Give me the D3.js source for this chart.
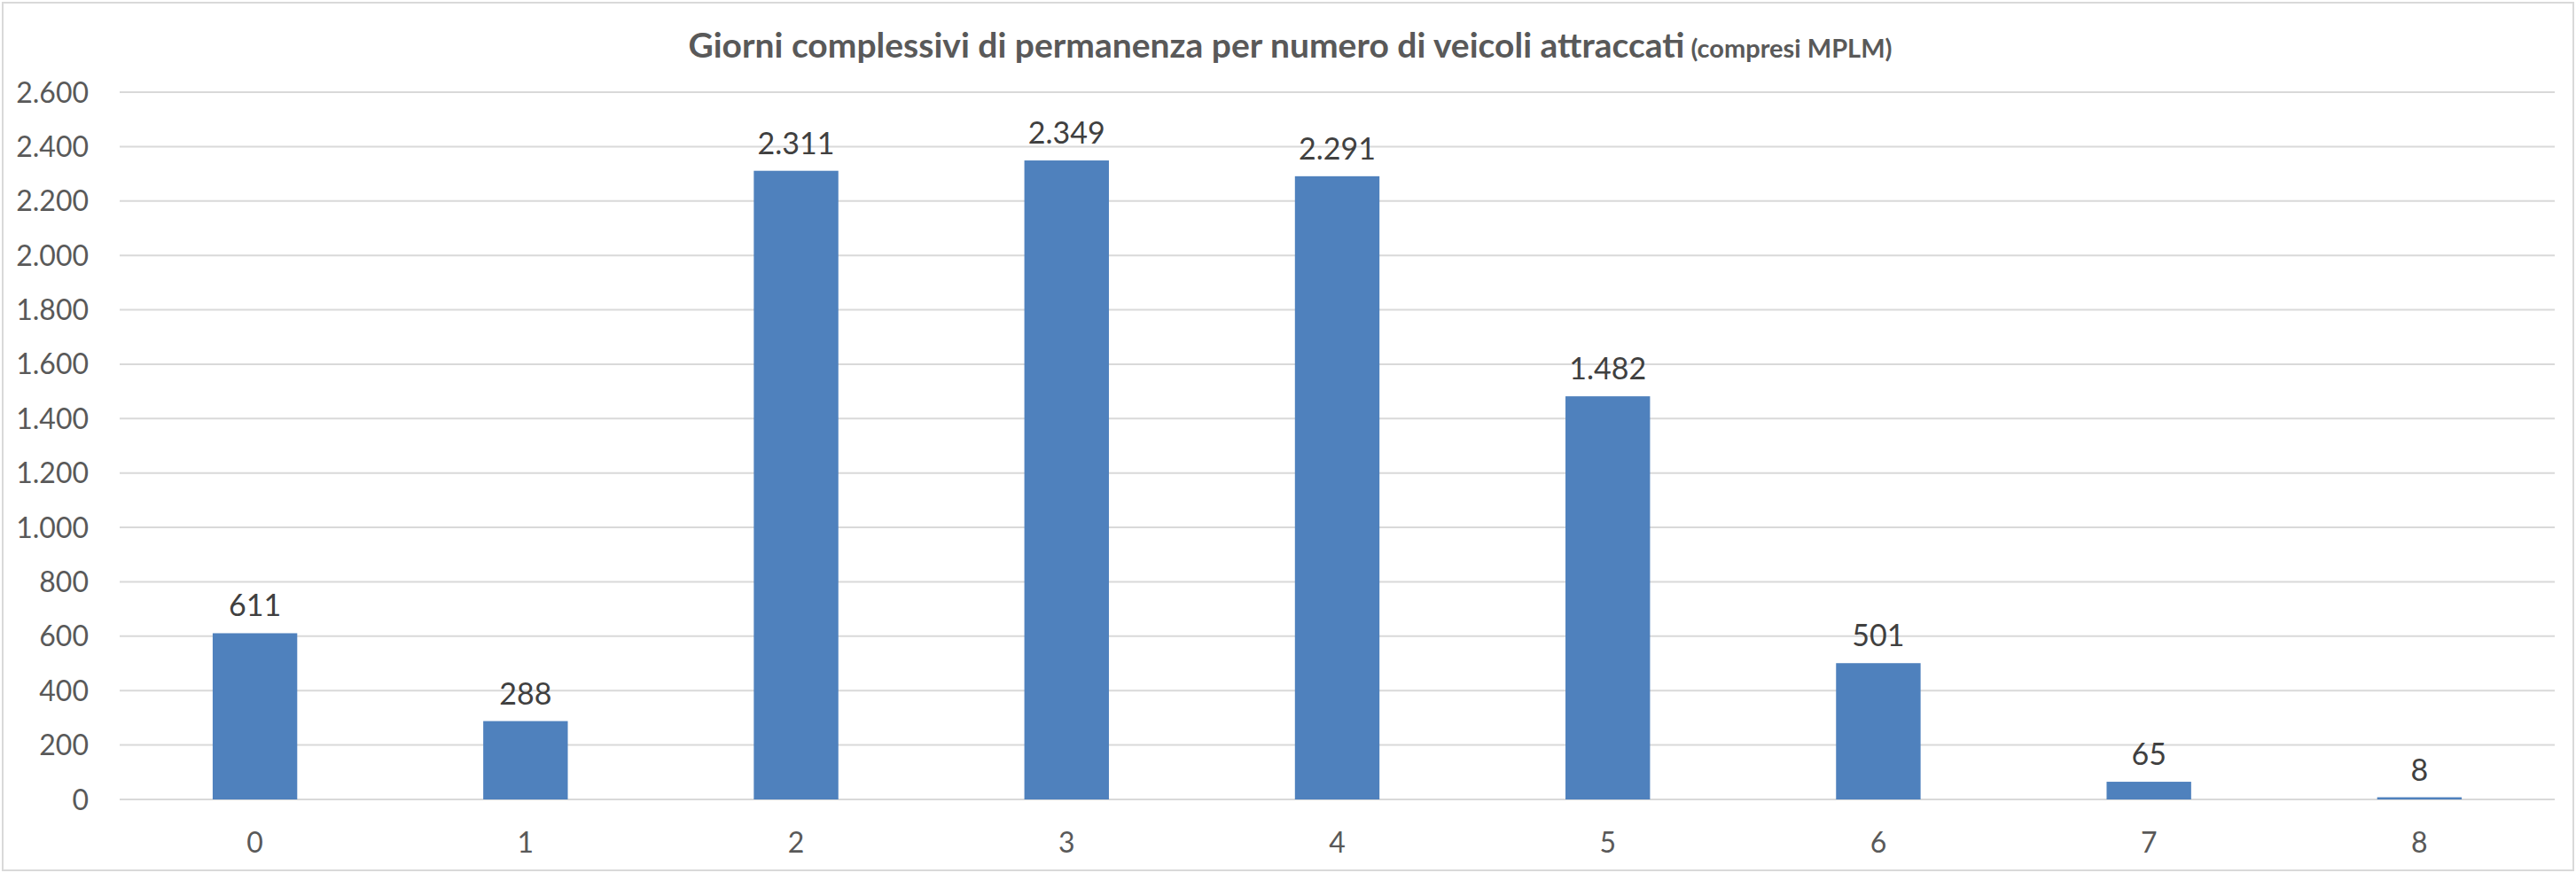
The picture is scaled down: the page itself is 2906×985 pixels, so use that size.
<!DOCTYPE html>
<html><head><meta charset="utf-8">
<script src="https://cdn.jsdelivr.net/npm/d3@7"></script>
<style>body{margin:0;background:#fff;}svg{display:block;}</style>
</head><body>
<script>
const categories = ["0","1","2","3","4","5","6","7","8"];
const values = [611, 288, 2311, 2349, 2291, 1482, 501, 65, 8];
const yTicks = [0,200,400,600,800,1000,1200,1400,1600,1800,2000,2200,2400,2600];
const titleMain = "Giorni complessivi di permanenza per numero di veicoli attraccati";
const titleSub = "(compresi MPLM)";

const W = 2906, H = 985;
const m = {left:135, right:2882, top:104, bottom:902};
const fmt = v => d3.format(",")(v).replace(/,/g, ".");
const font = "Lato, 'Open Sans', sans-serif";

const svg = d3.select("body").append("svg").attr("width", W).attr("height", H);
svg.append("rect").attr("x",3).attr("y",3).attr("width",W-6).attr("height",H-6)
  .attr("fill","#fff").attr("stroke","#d9d9d9").attr("stroke-width",2);

const x = d3.scaleBand().domain(categories).range([m.left, m.right]).paddingInner(0.6875).paddingOuter(0.34375);
const y = d3.scaleLinear().domain([0,2600]).range([m.bottom, m.top]);

svg.append("g").selectAll("line").data(yTicks).join("line")
  .attr("x1", m.left).attr("x2", m.right)
  .attr("y1", d=>y(d)).attr("y2", d=>y(d))
  .attr("stroke","#d9d9d9").attr("stroke-width",2);

svg.append("g").selectAll("text").data(yTicks).join("text")
  .attr("x", 100).attr("y", d=>y(d)).attr("dy","0.36em")
  .attr("text-anchor","end").attr("font-family",font).attr("font-size",32)
  .attr("fill","#595959").text(d=>fmt(d));

svg.append("g").selectAll("rect").data(values).join("rect")
  .attr("x",(d,i)=>x(categories[i])).attr("width",x.bandwidth())
  .attr("y",d=>y(d)).attr("height",d=>y(0)-y(d))
  .attr("fill","#4f81bd");

svg.append("g").selectAll("text").data(values).join("text")
  .attr("x",(d,i)=>x(categories[i])+x.bandwidth()/2).attr("y",d=>y(d)-19)
  .attr("text-anchor","middle").attr("font-family",font).attr("font-size",34)
  .attr("fill","#404040").text(d=>fmt(d));

svg.append("g").selectAll("text").data(categories).join("text")
  .attr("x",d=>x(d)+x.bandwidth()/2).attr("y",962)
  .attr("text-anchor","middle").attr("font-family",font).attr("font-size",32)
  .attr("fill","#595959").text(d=>d);

const t = svg.append("text").attr("x",(765+2146)/2).attr("y",65).attr("text-anchor","middle")
  .attr("font-family",font).attr("fill","#595959").attr("font-weight","bold");
t.append("tspan").attr("font-size",39).text(titleMain);
t.append("tspan").attr("font-size",29).text(" " + titleSub);
</script>
</body></html>
